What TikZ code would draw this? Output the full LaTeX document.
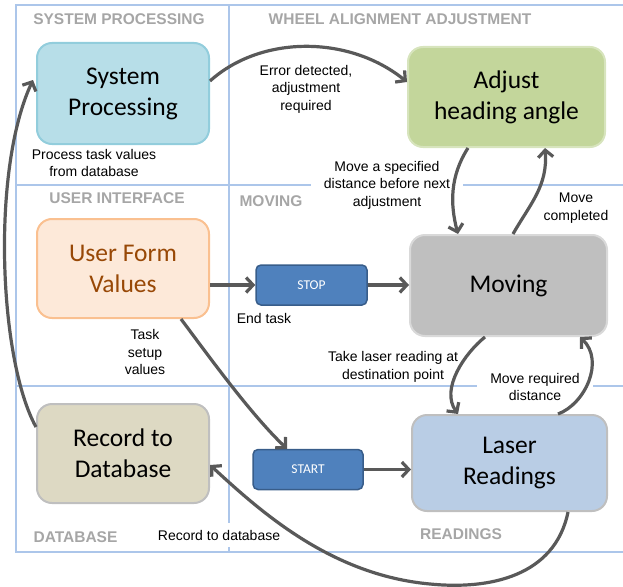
\documentclass[tikz,border=0pt]{standalone}
\usepackage{fontspec}
\setmainfont{Liberation Sans}
\newfontfamily\calfont{Carlito}
\usetikzlibrary{arrows.meta}
\definecolor{gridblue}{RGB}{172,198,234}
\definecolor{lanegray}{RGB}{166,166,166}
\definecolor{arrowgray}{RGB}{89,89,89}
\definecolor{sysfill}{RGB}{183,222,232}
\definecolor{sysline}{RGB}{146,205,220}
\definecolor{adjfill}{RGB}{195,214,155}
\definecolor{adjline}{RGB}{215,228,189}
\definecolor{ufvfill}{RGB}{253,233,217}
\definecolor{ufvline}{RGB}{250,192,144}
\definecolor{ufvtext}{RGB}{152,72,6}
\definecolor{movfill}{RGB}{191,191,191}
\definecolor{movline}{RGB}{217,217,217}
\definecolor{recfill}{RGB}{221,217,195}
\definecolor{grayline}{RGB}{191,191,191}
\definecolor{lasfill}{RGB}{185,205,229}
\definecolor{btnfill}{RGB}{79,129,189}
\definecolor{btnline}{RGB}{56,93,138}
\tikzset{
  lane/.style={draw=gridblue, line width=1.1pt},
  lanelabel/.style={font=\fontsize{15.5}{18}\selectfont\bfseries, text=lanegray, inner sep=0pt},
  state/.style={rounded corners=15pt, line width=2pt, minimum width=172pt, minimum height=100pt,
    align=center, font=\calfont\fontsize{25.5}{31}\selectfont, inner sep=0pt},
  btn/.style={rounded corners=5pt, fill=btnfill, draw=btnline, line width=1.5pt, text=white,
    font=\calfont\fontsize{13.5}{16}\selectfont, minimum width=110pt, minimum height=40pt, inner sep=0pt},
  note/.style={font=\fontsize{14}{17.5}\selectfont, align=center, inner sep=0pt},
  masknote/.style={note, fill=white, inner xsep=13pt, inner ysep=6pt},
  flow/.style={draw=arrowgray, line width=3.2pt, -{Straight Barb[length=7pt,width=15pt]}},
}
\begin{document}
\begin{tikzpicture}[x=1pt,y=-1pt]
\useasboundingbox (0,0) rectangle (623,586);
% swimlane grid
\draw[lane] (623,5) -- (16,5) -- (16,552) -- (623,552);
\draw[lane] (229,5) -- (229,552);
\draw[lane] (16,185) -- (623,185);
\draw[lane] (16,386) -- (623,386);
% lane labels
\node[lanelabel] (l1) at (119,19) {SYSTEM PROCESSING};
\node[lanelabel] (l2) at (400,19) {WHEEL ALIGNMENT ADJUSTMENT};
\node[lanelabel] (l3) at (117,198) {USER INTERFACE};
\node[lanelabel] (l4) at (271,201) {MOVING};
\node[lanelabel] (l5) at (75.5,537) {DATABASE};
\node[lanelabel] (l6) at (461,534) {READINGS};
% states
\node[state, fill=sysfill, draw=sysline, minimum height=101pt] (sys) at (123,93.5) {System\\Processing};
\node[state, fill=adjfill, draw=adjline, minimum width=197pt] (adj) at (506.5,97) {Adjust\\heading angle};
\node[state, fill=ufvfill, draw=ufvline, text=ufvtext, minimum height=99pt] (ufv) at (123,268.5) {User Form\\Values};
\node[state, fill=movfill, draw=movline, minimum width=197pt, minimum height=101pt] (mov) at (508.5,285.5) {Moving};
\node[state, fill=recfill, draw=grayline, minimum height=99pt] (rec) at (123,453.5) {Record to\\Database};
\node[state, fill=lasfill, draw=grayline, minimum width=195pt, minimum height=96pt] (las) at (509.5,463) {Laser\\Readings};
\node[btn, minimum width=111pt] (stop) at (311.5,285) {STOP};
\node[btn] (start) at (308,469.5) {START};
% notes
\node[note] (n1) at (306,89) {Error detected,\\adjustment\\required};
\node[note] (n2) at (94,163) {Process task values\\from database};
\node[masknote] (n3) at (387,185) {Move a specified\\distance before next\\adjustment};
\node[note] (n4) at (576,208) {Move\\completed};
\node[note] (n5) at (264,318) {End task};
\node[note] (n6) at (145,352) {Task\\setup\\values};
\node[note] (n7) at (393,367) {Take laser reading at\\destination point};
\node[masknote] (n8) at (535,387) {Move required\\distance};
\node[masknote, inner ysep=7pt] (n9) at (219,535) {Record to database};
% flows
\draw[flow] ([yshift=12.5pt]sys.east) .. controls +(51,-46) and +(-58,-47) .. ([yshift=15pt]adj.west);
\draw[flow] ([xshift=-38.5pt]adj.south) .. controls +(-18,28) and +(-8,-30) .. ([xshift=-50.5pt]mov.north);
\draw[flow] ([xshift=4.5pt]mov.north) .. controls +(17,-30) and +(3,38) .. ([xshift=38.5pt]adj.south);
\draw[flow] (ufv.east |- stop.west) -- (stop.west);
\draw[flow] (stop.east) -- (stop.east -| mov.west);
\draw[flow] ([xshift=58pt]ufv.south) .. controls +(24,32) and +(-37,-35) .. ([xshift=-21pt]start.north);
\draw[flow] ([xshift=-23.5pt]mov.south) .. controls +(-20,16) and +(-18,-25) .. ([xshift=-51.5pt]las.north);
\draw[flow] ([xshift=48.5pt]las.north) .. controls +(27,-10) and +(25,24) .. ([xshift=71.5pt]mov.south);
\draw[flow] (start.east) -- (start.east -| las.west);
\draw[flow] ([xshift=58.5pt]las.south) .. controls +(-13,64) and +(60,6) .. (430,584)
   .. controls +(-100,-9) and +(49,45) .. ([yshift=-11.5pt]rec.east);
\draw[flow] ([yshift=26.5pt]rec.west) .. controls +(-37,-67) and +(-42,90) .. ([xshift=-3pt,yshift=13.5pt]sys.west);
\end{tikzpicture}
\end{document}
